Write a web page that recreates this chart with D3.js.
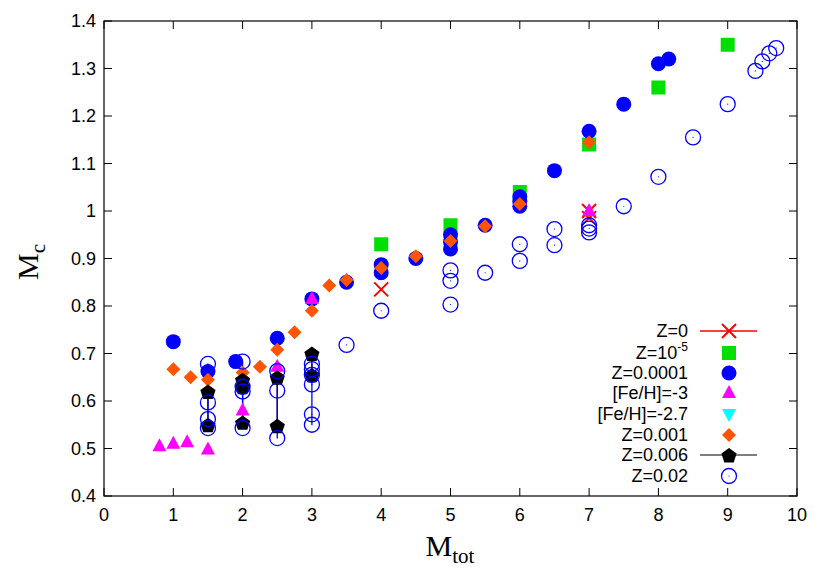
<!DOCTYPE html><html><head><meta charset="utf-8"><script src="https://cdn.jsdelivr.net/npm/d3@7"></script>
<style>body{margin:0;background:#fff}text{font-family:"Liberation Sans",Arial,sans-serif}</style></head><body><svg id="c" width="830" height="581"></svg>
<script>
const xTicks=[0,1,2,3,4,5,6,7,8,9,10];
const yTicks=[0.4,0.5,0.6,0.7,0.8,0.9,1,1.1,1.2,1.3,1.4];
const z0=[[4,0.835],[7,1.0],[7,0.985]];
const z1e5=[[4,0.93],[5,0.97],[6,1.04],[7,1.14],[8,1.26],[9,1.35]];
const z1e4=[[1,0.725],[1.5,0.662],[1.9,0.683],[2.5,0.732],[3,0.815],[3.5,0.85],[4,0.887],[4,0.87],[4.5,0.9],[5,0.95],[5,0.935],[5,0.92],[5.5,0.97],[6,1.03],[6,1.02],[6,1.01],[6.5,1.085],[7,1.168],[7.5,1.225],[8,1.31],[8.15,1.32]];
const feh3=[[0.8,0.505],[1.0,0.51],[1.2,0.513],[1.5,0.498],[2,0.58],[2.5,0.672],[3,0.815],[7,1.0]];
const feh27=[[2,0.63]];
const z001=[[1,0.667],[1.25,0.65],[1.5,0.645],[2,0.66],[2.25,0.672],[2.5,0.708],[2.75,0.745],[3,0.79],[3.25,0.843],[3.5,0.855],[4,0.88],[4.5,0.905],[5,0.937],[5.5,0.968],[6,1.015],[7,1.145]];
const z006=[[1.5,0.62],[1.5,0.55],[2,0.645],[2,0.555],[2,0.63],[2.5,0.65],[2.5,0.548],[3,0.70],[3,0.655]];
const z02=[[1.5,0.678],[1.5,0.597],[1.5,0.562],[1.5,0.543],[2,0.683],[2,0.63],[2,0.62],[2,0.543],[2.5,0.663],[2.5,0.622],[2.5,0.522],[3,0.678],[3,0.667],[3,0.655],[3,0.635],[3,0.572],[3,0.55],[3.5,0.718],[4,0.79],[5,0.875],[5,0.853],[5,0.803],[5.5,0.87],[6,0.93],[6,0.895],[6.5,0.962],[6.5,0.928],[7,0.97],[7,0.963],[7,0.955],[7.5,1.01],[8,1.072],[8.5,1.155],[9,1.225],[9.4,1.295],[9.5,1.315],[9.6,1.332],[9.7,1.343]];
const L=104,R=797,T=21,B=496;
const svg=d3.select("#c");
const x=d3.scaleLinear().domain([0,10]).range([L,R]);
const y=d3.scaleLinear().domain([0.4,1.4]).range([B,T]);
const g=svg.append("g");
function vlines(data,color){
  d3.groups(data,d=>d[0]).forEach(([k,v])=>{const e=d3.extent(v,d=>d[1]);
    g.append("line").attr("x1",x(k)).attr("x2",x(k)).attr("y1",y(e[0])).attr("y2",y(e[1])).attr("stroke",color).attr("stroke-width",1.3);});
}
vlines(z006,"#000");
vlines(z02.filter(d=>d[0]<=3),"#0000ff");
function drawX(sel,cx,cy){const p=d3.path(),s=7;p.moveTo(-s,-s);p.lineTo(s,s);p.moveTo(-s,s);p.lineTo(s,-s);
  sel.append("path").attr("d",p.toString()).attr("transform",`translate(${cx},${cy})`).attr("stroke","#ff0000").attr("stroke-width",2).attr("fill","none");}
function sq(sel,cx,cy){sel.append("rect").attr("x",cx-7).attr("y",cy-7).attr("width",14).attr("height",14).attr("fill","#00e000");}
function circ(sel,cx,cy){sel.append("circle").attr("cx",cx).attr("cy",cy).attr("r",7.5).attr("fill","#0000ff");}
function tri(sel,cx,cy){sel.append("path").attr("d","M0,-8L7,5L-7,5Z").attr("transform",`translate(${cx},${cy})`).attr("fill","#ff00ff");}
function tri2(sel,cx,cy){sel.append("path").attr("d","M0,8L7,-5L-7,-5Z").attr("transform",`translate(${cx},${cy})`).attr("fill","#00ffff");}
function dia(sel,cx,cy){sel.append("path").attr("d","M0,-7L7,0L0,7L-7,0Z").attr("transform",`translate(${cx},${cy})`).attr("fill","#ff5500");}
function pent(sel,cx,cy){const pts=d3.range(5).map(i=>{const a=-Math.PI/2+i*2*Math.PI/5;return [8*Math.cos(a),8*Math.sin(a)+1]});
  sel.append("path").attr("d","M"+pts.join("L")+"Z").attr("transform",`translate(${cx},${cy})`).attr("fill","#000");}
function oc(sel,cx,cy){sel.append("circle").attr("cx",cx).attr("cy",cy).attr("r",7.5).attr("fill","none").attr("stroke","#0000ff").attr("stroke-width",1.3);
  sel.append("circle").attr("cx",cx).attr("cy",cy).attr("r",0.6).attr("fill","#0000ff");}
z1e5.forEach(d=>sq(g,x(d[0]),y(d[1])));
z1e4.forEach(d=>circ(g,x(d[0]),y(d[1])));
z0.forEach(d=>drawX(g,x(d[0]),y(d[1])));
feh3.forEach(d=>tri(g,x(d[0]),y(d[1])));
feh27.forEach(d=>tri2(g,x(d[0]),y(d[1])));
z001.forEach(d=>dia(g,x(d[0]),y(d[1])));
z006.forEach(d=>pent(g,x(d[0]),y(d[1])));
z02.forEach(d=>oc(g,x(d[0]),y(d[1])));
svg.append("rect").attr("x",L).attr("y",T).attr("width",R-L).attr("height",B-T).attr("fill","none").attr("stroke","#000").attr("stroke-width",1.2);
xTicks.forEach(t=>{
  svg.append("line").attr("x1",x(t)).attr("x2",x(t)).attr("y1",B).attr("y2",B-8).attr("stroke","#000");
  svg.append("line").attr("x1",x(t)).attr("x2",x(t)).attr("y1",T).attr("y2",T+8).attr("stroke","#000");
  svg.append("text").attr("x",x(t)).attr("y",B+25).attr("text-anchor","middle").attr("font-size",18).text(t);
});
yTicks.forEach(t=>{
  svg.append("line").attr("x1",L).attr("x2",L+8).attr("y1",y(t)).attr("y2",y(t)).attr("stroke","#000");
  svg.append("line").attr("x1",R).attr("x2",R-8).attr("y1",y(t)).attr("y2",y(t)).attr("stroke","#000");
  svg.append("text").attr("x",L-8).attr("y",y(t)+6).attr("text-anchor","end").attr("font-size",18).text(d3.format("~g")(t));
});
const xl=svg.append("text").attr("x",450).attr("y",556).attr("text-anchor","middle").attr("font-size",30).style("font-family","'Liberation Serif',serif");
xl.append("tspan").text("M");xl.append("tspan").attr("font-size",21).attr("dy",7).text("tot");
const yl=svg.append("text").attr("transform","translate(38,262) rotate(-90)").attr("text-anchor","middle").attr("font-size",30).style("font-family","'Liberation Serif',serif");
yl.append("tspan").text("M");yl.append("tspan").attr("font-size",21).attr("dy",7).text("c");
const labels=["Z=0","Z=10-5","Z=0.0001","[Fe/H]=-3","[Fe/H]=-2.7","Z=0.001","Z=0.006","Z=0.02"];
const fns=[drawX,sq,circ,tri,tri2,dia,pent,oc];
const ly=[331,353,373,393,414,435,455,476];
labels.forEach((lab,i)=>{
  const t=svg.append("text").attr("x",688).attr("y",ly[i]+6).attr("text-anchor","end").attr("font-size",18);
  if(i===1){t.append("tspan").text("Z=10");t.append("tspan").attr("font-size",12).attr("dy",-8).text("-5");}
  else t.text(lab);
  if(i===0) svg.append("line").attr("x1",700).attr("x2",757).attr("y1",ly[i]).attr("y2",ly[i]).attr("stroke","#ff0000").attr("stroke-width",1.3);
  if(i===6) svg.append("line").attr("x1",700).attr("x2",757).attr("y1",ly[i]).attr("y2",ly[i]).attr("stroke","#000").attr("stroke-width",1);
  fns[i](svg,729,ly[i]);
});
</script></body></html>
